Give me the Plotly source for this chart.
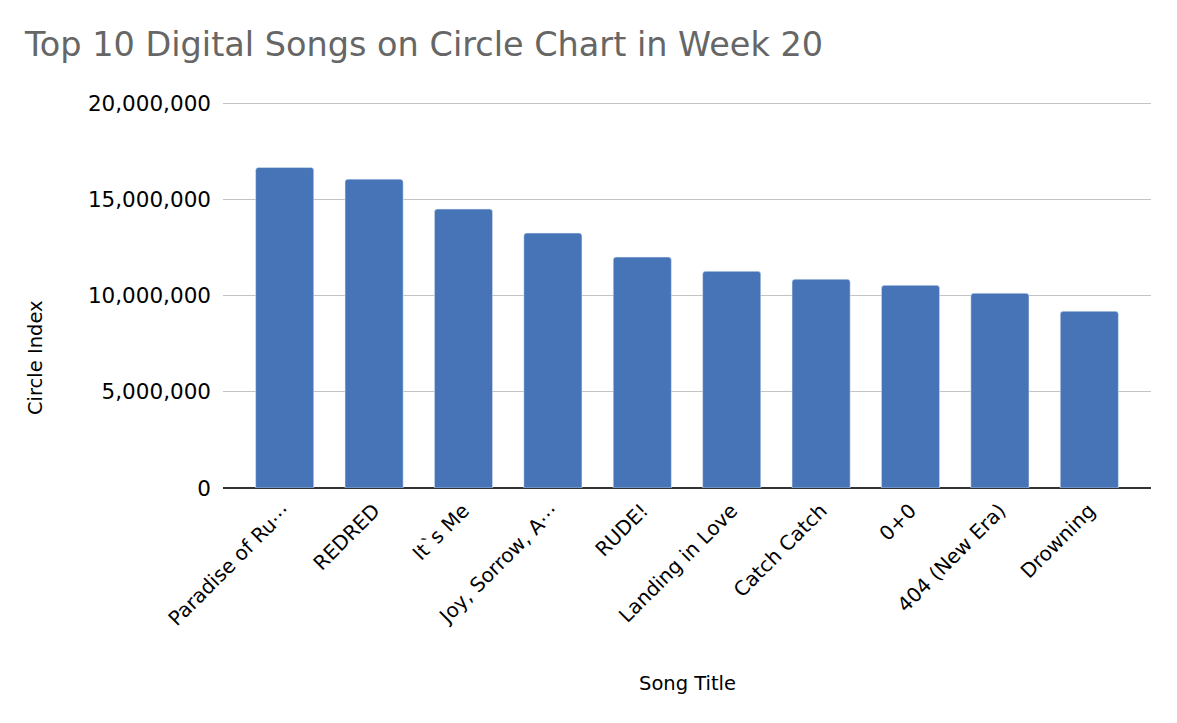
import plotly.graph_objects as go

# data
songs = [
    "Paradise of Ru⋯",
    "REDRED",
    "It`s Me",
    "Joy, Sorrow, A⋯",
    "RUDE!",
    "Landing in Love",
    "Catch Catch",
    "0+0",
    "404 (New Era)",
    "Drowning",
]
circle_index = [
    16690000, 16080000, 14520000, 13270000, 12020000,
    11280000, 10870000, 10550000, 10140000, 9200000,
]
y_ticks = [0, 5000000, 10000000, 15000000, 20000000]

font = "DejaVu Sans, Open Sans, sans-serif"

fig = go.Figure()
fig.add_trace(
    go.Bar(
        x=list(range(len(songs))),
        y=circle_index,
        marker_color="#4674b7",
        marker_cornerradius=3,
        hovertemplate="%{y:,}<extra></extra>",
    )
)

# page body has an 8px margin, so the margins below are shifted by that
fig.update_layout(
    width=1177,
    height=723,
    paper_bgcolor="white",
    plot_bgcolor="white",
    font_family=font,
    font_color="#000000",
    margin=dict(l=215, r=34, t=92, b=243),
    bargap=0.35,
    showlegend=False,
    title=dict(
        text="Top 10 Digital Songs on Circle Chart in Week 20",
        font=dict(size=33.5, color="#666666", family=font),
        x=17 / 1177,
        xanchor="left",
        y=1 - 36 / 723,
        yanchor="middle",
    ),
)

fig.update_xaxes(
    tickmode="array",
    tickvals=list(range(len(songs))),
    ticktext=songs,
    tickangle=-45,
    tickfont_size=20,
    range=[-0.69, 9.69],
    showgrid=False,
    ticks="",
    ticklabelstandoff=6,
    automargin=False,
)
# a little headroom above 20M so the top grid line is not clipped
fig.update_yaxes(
    range=[0, 20200000],
    tickvals=y_ticks,
    tickformat=",d",
    tickfont_size=21.5,
    gridcolor="#c3c3c3",
    gridwidth=1.3,
    zeroline=True,
    zerolinecolor="#333333",
    zerolinewidth=2,
    ticks="",
    ticklabelstandoff=11,
    automargin=False,
)

# axis titles placed where the reference has them
fig.add_annotation(
    text="Song Title", x=0.5, y=0, xref="paper", yref="paper",
    xanchor="center", yanchor="middle", yshift=-195,
    showarrow=False, font=dict(size=19.5, color="#000000"),
)
fig.add_annotation(
    text="Circle Index", x=0, y=0.5, xref="paper", yref="paper",
    xanchor="center", yanchor="middle", xshift=-188, yshift=-64,
    textangle=-90, showarrow=False, font=dict(size=19.5, color="#000000"),
)

fig.write_html("out.html")
